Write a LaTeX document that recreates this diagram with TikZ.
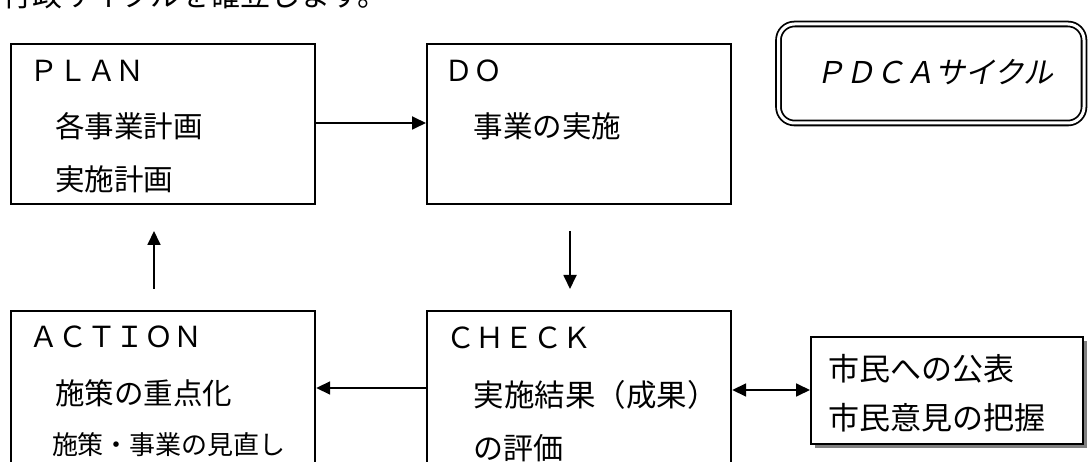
\documentclass[tikz,border=0pt]{standalone}
\usepackage{fontspec}
\setmainfont{Noto Sans CJK JP}
\newfontfamily\jpit[FakeSlant=0.2]{Noto Sans CJK JP}
\usetikzlibrary{arrows.meta}
\tikzset{
  box/.style={draw=black, line width=2.2pt, fill=white, inner sep=0pt, rectangle},
  lbl/.style={anchor=base west, inner sep=0pt, outer sep=0pt},
  conn/.style={line width=1.8pt, -{Triangle[length=14pt,width=13pt]}},
  bconn/.style={line width=1.8pt, {Triangle[length=14pt,width=13pt]}-{Triangle[length=14pt,width=13pt]}},
}
\newcommand{\fsz}[1]{\fontsize{#1}{#1}\selectfont}
\begin{document}
\begin{tikzpicture}[x=1pt,y=-1pt]
\useasboundingbox (0,0) rectangle (1088,462);
\clip (0,0) rectangle (1088,462);
% top (cut-off) sentence
\node[lbl] (top) at (2,7) {\fsz{30}行政サイクルを確立します。};
% boxes
\node[box, anchor=north west, minimum width=304pt, minimum height=160pt] (plan) at (10,43) {};
\node[box, anchor=north west, minimum width=304pt, minimum height=160pt] (do) at (426,43) {};
\node[box, anchor=north west, minimum width=304pt, minimum height=170pt] (act) at (10,310) {};
\node[box, anchor=north west, minimum width=304pt, minimum height=170pt] (chk) at (426,310) {};
% public box with shadow
\fill[black!50] (815,341) rectangle (1087,448);
\node[box, anchor=north west, minimum width=272pt, minimum height=107pt, line width=2pt] (pub) at (810,336) {};
% PDCA title box
\draw[line width=1.8pt, double, double distance=3pt, rounded corners=16pt] (778.5,24) rectangle (1084,123);
\node[lbl] (ttl) at (815,84) {\fsz{30}\jpit ＰＤＣＡサイクル};
% texts
\node[lbl] (t1) at (29,82) {\fsz{29}ＰＬＡＮ};
\node[lbl] (t2) at (55.5,138) {\fsz{29.5}各事業計画};
\node[lbl] (t3) at (55.5,191) {\fsz{29.5}実施計画};
\node[lbl] (t4) at (444,82) {\fsz{29}ＤＯ};
\node[lbl] (t5) at (473.5,138) {\fsz{29.5}事業の実施};
\node[lbl] (t6) at (29,348) {\fsz{29}ＡＣＴＩＯＮ};
\node[lbl] (t7) at (55.5,405) {\fsz{29.5}施策の重点化};
\node[lbl] (t8) at (52,455) {\fsz{26}施策・事業の見直し};
\node[lbl] (t9) at (446,349) {\fsz{29}ＣＨＥＣＫ};
\node[lbl] (t10) at (473.5,407) {\fsz{30.5}実施結果（成果）};
\node[lbl] (t11) at (473.5,460) {\fsz{30}の評価};
\node[lbl] (t12) at (828.5,381) {\fsz{31}市民への公表};
\node[lbl] (t13) at (828.5,430) {\fsz{31}市民意見の把握};
% connectors
\coordinate (upS) at (154,289);
\coordinate (upE) at (154,231);
\coordinate (dnS) at (570,231);
\coordinate (dnE) at (570,289);
\draw[conn] (plan.east |- 0,123) -- (do.west |- 0,123);
\draw[conn] (upS) -- (upE);
\draw[conn] (dnS) -- (dnE);
\draw[conn] (chk.west |- 0,388) -- (act.east |- 0,388);
\draw[bconn] (chk.east |- 0,390) -- (pub.west |- 0,390);
\end{tikzpicture}
\end{document}
